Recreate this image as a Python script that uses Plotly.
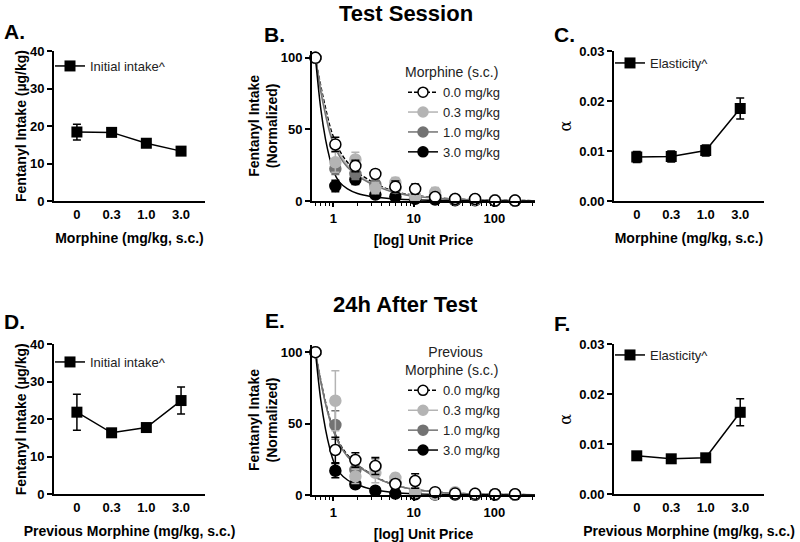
import plotly.graph_objects as go

W, H = 800, 542
FONT = "Liberation Sans, Arial, Helvetica, sans-serif"

# ---- data ----
doses = ["0", "0.3", "1.0", "3.0"]

# A / D: initial fentanyl intake (ug/kg), mean and SEM
intake_test = [18.4, 18.3, 15.4, 13.3]
intake_test_err = [2.1, 0.4, 0.4, 0.4]
intake_after = [21.9, 16.4, 17.8, 25.0]
intake_after_err = [4.8, 0.4, 0.4, 3.6]

# C / F: elasticity (alpha), mean and SEM
alpha_test = [0.0088, 0.0089, 0.0101, 0.0185]
alpha_test_err = [0.0011, 0.0011, 0.0011, 0.0021]
alpha_after = [0.0077, 0.0071, 0.0073, 0.0164]
alpha_after_err = [0.0004, 0.0003, 0.0003, 0.0027]

# B / E: normalized intake across unit prices
unit_price = [0.6, 1.06, 1.88, 3.33, 5.9, 10.4, 18.4, 32.6, 57.7, 102, 181]

test_00 = [100, 39.5, 24.5, 18.9, 10, 8.4, 2.8, 1.4, 1.4, 0.3, 0.3]
test_00_err = [0, 5, 4, 3, 4, 3.5, 2, 1, 1, 0.5, 0.5]
test_03 = [100, 27, 29, 9, 13, 3, 6, 1.5, 1, 0.5, 0.3]
test_03_err = [0, 7, 5, 4, 3.5, 2, 3.5, 1, 0.5, 0.5, 0.3]
test_10 = [100, 22.5, 19, 11.5, 9, 3, 3.5, 1, 1, 0.5, 0.3]
test_10_err = [0, 4, 4, 3, 3, 1.5, 2, 1, 0.5, 0.3, 0.3]
test_30 = [100, 10.5, 15, 4.5, 3, 1.5, 1, 0.5, 0.5, 0.2, 0.2]
test_30_err = [0, 4, 3.5, 2, 1.5, 1, 0.5, 0.5, 0.3, 0.2, 0.2]

after_00 = [100, 31.5, 24.5, 20.3, 7.7, 9.8, 2, 1, 0.8, 0.5, 0.5]
after_00_err = [0, 9, 5, 6, 3, 5, 1, 1, 0.5, 0.5, 0.3]
after_03 = [100, 66, 13, 15.6, 12, 2, 0.5, 2, 1, 0.5, 0.3]
after_03_err = [0, 21, 5, 7, 3, 2, 1, 1, 0.5, 0.5, 0.3]
after_10 = [100, 49, 17.5, 19.4, 8.5, 2, 1, 1, 0.5, 0.5, 0.3]
after_10_err = [0, 10, 5, 6, 3, 2, 1, 1, 0.5, 0.3, 0.3]
after_30 = [100, 17, 7.5, 3, 1, 0.5, 0.3, 0.3, 0.2, 0.2, 0.2]
after_30_err = [0, 5, 2.5, 1.5, 0.5, 0.3, 0.2, 0.2, 0.2, 0.2, 0.2]

# fitted demand curves, sampled by eye along the drawn lines
curve_price = [0.6, 0.7, 0.8, 0.9, 1.0, 1.2, 1.5, 2, 3, 4, 6, 10, 20, 40, 100, 320]
test_fit_00 = [100, 80, 65, 53, 45, 35, 27, 20, 13.5, 10, 6.5, 4, 2.2, 1.2, 0.6, 0.2]
test_fit_03 = [100, 78, 62, 50, 42, 33, 25, 18.5, 12.5, 9.3, 6, 3.7, 2, 1.1, 0.5, 0.2]
test_fit_10 = [100, 76, 60, 48, 40, 31, 23.5, 17.5, 11.8, 8.8, 5.6, 3.4, 1.8, 1.0, 0.5, 0.2]
test_fit_30 = [100, 64, 43, 30, 21, 13, 8.5, 5.2, 3, 2.2, 1.4, 0.8, 0.4, 0.2, 0.1, 0]
after_fit_00 = [100, 80, 65, 54, 46, 36, 28, 21, 14.5, 10.5, 6.8, 4, 2, 1, 0.5, 0.2]
after_fit_03 = [100, 79, 64, 53, 45, 35, 27, 20.5, 14, 10.2, 6.6, 3.9, 2, 1, 0.5, 0.2]
after_fit_10 = [100, 79, 64, 53, 45, 35, 27, 20.5, 14, 10.2, 6.6, 3.9, 2, 1, 0.5, 0.2]
after_fit_30 = [100, 66, 46, 33, 24, 15.5, 10.5, 7.2, 4, 2.8, 1.6, 0.9, 0.4, 0.2, 0.1, 0]

dose_labels = ["0.0 mg/kg", "0.3 mg/kg", "1.0 mg/kg", "3.0 mg/kg"]

LIGHT = "#b4b4b4"
DARK = "#737373"
TITLE_FONT = dict(family=FONT, size=14, color="black", weight="bold")


def px(x):
    """Window pixel -> paper fraction (x)"""
    return x / W


def py(y):
    """Window pixel from the top -> paper fraction (y)"""
    return 1 - y / H


def xdom(left, right):
    return [px(left), px(right)]


def ydom(top, bottom):
    return [py(bottom), py(top)]


def axis_style(**kw):
    style = dict(
        showline=True, linecolor="black", linewidth=1.8, mirror=False,
        showgrid=False, zeroline=False, ticks="outside", ticklen=5,
        tickwidth=1.5, tickcolor="black", automargin=False,
        tickfont=dict(family=FONT, size=13, color="black", weight="bold"),
    )
    style.update(kw)
    return style


def title(text, standoff, font=TITLE_FONT):
    return dict(text=text, standoff=standoff, font=font)


fig = go.Figure()


def add_dose_panel(n, values, errors, label):
    """Square markers joined by a line, one point per morphine dose"""
    ax = "" if n == 1 else str(n)
    fig.add_trace(go.Scatter(
        x=doses, y=values, mode="lines+markers",
        xaxis="x" + ax, yaxis="y" + ax, legend="legend" + ax,
        name=label, cliponaxis=False,
        line=dict(color="black", width=1.5),
        marker=dict(symbol="square", size=11, color="black"),
        error_y=dict(type="data", array=errors, color="black", thickness=1.5, width=4),
    ))


def add_price_panel(n, fits, points, errors):
    """Demand curves plus normalized intake points for the four doses"""
    ax = str(n)
    colors = ["black", LIGHT, DARK, "black"]
    dashes = ["4px,2px", "solid", "solid", "solid"]

    # Fitted curves first so the points sit on top
    for fit, color, dash in zip(fits, colors, dashes):
        fig.add_trace(go.Scatter(
            x=curve_price, y=fit, mode="lines", line_shape="spline",
            xaxis="x" + ax, yaxis="y" + ax, showlegend=False,
            line=dict(color=color, width=1.5, dash=dash), hoverinfo="skip",
        ))

    # Points: 3.0, 1.0, 0.3 then the open circles of 0.0 on top
    fills = ["white", LIGHT, DARK, "black"]
    outlines = ["black", LIGHT, DARK, "black"]
    for i in [3, 2, 1, 0]:
        fig.add_trace(go.Scatter(
            x=unit_price, y=points[i], mode="markers", cliponaxis=False,
            xaxis="x" + ax, yaxis="y" + ax, showlegend=False,
            marker=dict(symbol="circle", size=11, color=fills[i],
                        line=dict(color=outlines[i], width=1.5)),
            error_y=dict(type="data", array=errors[i], color=outlines[i],
                         thickness=1.5, width=4),
        ))

    # Legend-only entries, in dose order
    for i in range(4):
        fig.add_trace(go.Scatter(
            x=[None], y=[None], mode="lines+markers", name=dose_labels[i],
            xaxis="x" + ax, yaxis="y" + ax, legend="legend" + ax,
            line=dict(color=colors[i], width=1.5, dash=dashes[i]),
            marker=dict(symbol="circle", size=10, color=fills[i],
                        line=dict(color=outlines[i], width=1.5)),
        ))


add_dose_panel(1, intake_test, intake_test_err, "Initial intake^")
add_price_panel(2, [test_fit_00, test_fit_03, test_fit_10, test_fit_30],
                [test_00, test_03, test_10, test_30],
                [test_00_err, test_03_err, test_10_err, test_30_err])
add_dose_panel(3, alpha_test, alpha_test_err, "Elasticity^")
add_dose_panel(4, intake_after, intake_after_err, "Initial intake^")
add_price_panel(5, [after_fit_00, after_fit_03, after_fit_10, after_fit_30],
                [after_00, after_03, after_10, after_30],
                [after_00_err, after_03_err, after_10_err, after_30_err])
add_dose_panel(6, alpha_after, alpha_after_err, "Elasticity^")

cat_range = [-0.66, 3.69]
log_range = [-0.265, 2.506]
intake_title = "Fentanyl Intake (µg/kg)"
norm_title = "Fentanyl Intake<br>(Normalized)"
alpha_font = dict(family="DejaVu Serif, serif", size=16, color="black")
log_minor = dict(ticks="outside", ticklen=3, tickwidth=1.2, tickcolor="black",
                 dtick="D1", showgrid=False)

legend_base = dict(bgcolor="rgba(0,0,0,0)", borderwidth=0, xanchor="left", yanchor="top",
                   font=dict(family=FONT, size=13, color="#222"), tracegroupgap=0,
                   itemclick=False, itemdoubleclick=False)
legend_title_font = dict(family=FONT, size=14, color="#222")

fig.update_layout(
    width=W, height=H, margin=dict(l=0, r=0, t=0, b=0),
    paper_bgcolor="white", plot_bgcolor="white",
    font=dict(family=FONT, color="black"),
    # top row
    xaxis=axis_style(domain=xdom(54, 205), anchor="y", type="category", range=cat_range,
                     ticks="", title=title("Morphine (mg/kg, s.c.)", 13)),
    yaxis=axis_style(domain=ydom(51, 201), anchor="x", range=[0, 40], tickvals=[0, 10, 20, 30, 40],
                     title=title(intake_title, 0)),
    xaxis2=axis_style(domain=xdom(312, 535), anchor="y2", type="log", range=log_range,
                      tickvals=[1, 10, 100], ticktext=["1", "10", "100"], minor=log_minor,
                      ticklen=4, title=title("[log] Unit Price", 11)),
    yaxis2=axis_style(domain=ydom(50.7, 201), anchor="x2", range=[0, 105], tickvals=[0, 50, 100],
                      title=title(norm_title, 0)),
    xaxis3=axis_style(domain=xdom(614, 764), anchor="y3", type="category", range=cat_range,
                      ticks="", title=title("Morphine (mg/kg, s.c.)", 13)),
    yaxis3=axis_style(domain=ydom(51, 201), anchor="x3", range=[0, 0.03],
                      tickvals=[0, 0.01, 0.02, 0.03], ticktext=["0.00", "0.01", "0.02", "0.03"],
                      title=title("α", 4, alpha_font)),
    # bottom row
    xaxis4=axis_style(domain=xdom(54, 205), anchor="y4", type="category", range=cat_range,
                      ticks="", title=title("Previous Morphine (mg/kg, s.c.)", 12)),
    yaxis4=axis_style(domain=ydom(344.3, 494.3), anchor="x4", range=[0, 40],
                      tickvals=[0, 10, 20, 30, 40], title=title(intake_title, 0)),
    xaxis5=axis_style(domain=xdom(312, 535), anchor="y5", type="log", range=log_range,
                      tickvals=[1, 10, 100], ticktext=["1", "10", "100"], minor=log_minor,
                      ticklen=4, title=title("[log] Unit Price", 11)),
    yaxis5=axis_style(domain=ydom(345, 495), anchor="x5", range=[0, 105], tickvals=[0, 50, 100],
                      title=title(norm_title, 0)),
    xaxis6=axis_style(domain=xdom(614, 764), anchor="y6", type="category", range=cat_range,
                      ticks="", title=title("Previous Morphine (mg/kg, s.c.)", 12)),
    yaxis6=axis_style(domain=ydom(344.3, 494.3), anchor="x6", range=[0, 0.03],
                      tickvals=[0, 0.01, 0.02, 0.03], ticktext=["0.00", "0.01", "0.02", "0.03"],
                      title=title("α", 4, alpha_font)),
    legend=dict(legend_base, x=px(50), y=py(51)),
    legend2=dict(legend_base, x=px(403), y=py(59),
                 title=dict(text="Morphine (s.c.)", side="top", font=legend_title_font)),
    legend3=dict(legend_base, x=px(610), y=py(48)),
    legend4=dict(legend_base, x=px(50), y=py(347)),
    legend5=dict(legend_base, x=px(403), y=py(339),
                 title=dict(text="      Previous<br>Morphine (s.c.)", side="top",
                            font=legend_title_font)),
    legend6=dict(legend_base, x=px(610), y=py(340)),
    showlegend=True,
)

# Section titles and panel letters
for text, x, y, anchor, size in [
    ("Test Session", 406, 13, "center", 22), ("24h After Test", 406, 304, "center", 22),
    ("A.", 2, 32, "left", 21), ("B.", 262, 34, "left", 21), ("C.", 552, 34, "left", 21),
    ("D.", 2, 322, "left", 21), ("E.", 263, 320, "left", 21), ("F.", 552, 323, "left", 21),
]:
    fig.add_annotation(
        text=text, x=px(x), y=py(y), xref="paper", yref="paper",
        xanchor=anchor, yanchor="middle", showarrow=False,
        font=dict(family=FONT, size=size, color="black", weight="bold"),
    )

# The page body has a default 8px margin; drop it so the figure fills the window
fig.write_html("out.html", config={"displayModeBar": False},
               post_script="document.body.style.margin = '0';")
